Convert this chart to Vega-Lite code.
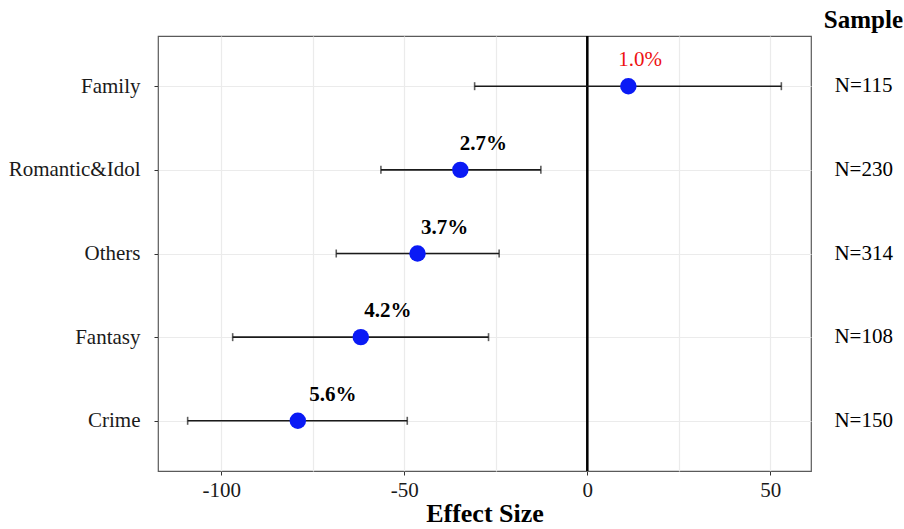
{
  "$schema": "https://vega.github.io/schema/vega-lite/v6.json",
  "width": 653,
  "height": 435,
  "padding": {"left": 8, "top": 8, "right": 0, "bottom": 0},
  "autosize": {"type": "pad"},
  "background": "white",
  "title": {
    "text": "Sample",
    "anchor": "end",
    "frame": "group",
    "dx": 92,
    "offset": 2,
    "font": "Liberation Serif",
    "fontSize": 25,
    "fontWeight": "bold",
    "color": "#000000"
  },
  "data": {
    "values": [
      {"genre": "Family", "est": 11.2, "lo": -30.8, "hi": 53.0, "label": "1.0%", "lx": 14.4, "sig": "no", "n": "N=115"},
      {"genre": "Romantic&Idol", "est": -34.7, "lo": -56.4, "hi": -12.7, "label": "2.7%", "lx": -28.4, "sig": "yes", "n": "N=230"},
      {"genre": "Others", "est": -46.4, "lo": -68.6, "hi": -24.1, "label": "3.7%", "lx": -39.0, "sig": "yes", "n": "N=314"},
      {"genre": "Fantasy", "est": -61.9, "lo": -96.9, "hi": -27.0, "label": "4.2%", "lx": -54.5, "sig": "yes", "n": "N=108"},
      {"genre": "Crime", "est": -79.1, "lo": -109.2, "hi": -49.2, "label": "5.6%", "lx": -69.5, "sig": "yes", "n": "N=150"}
    ]
  },
  "encoding": {
    "y": {
      "field": "genre",
      "type": "nominal",
      "sort": null,
      "scale": {"type": "point", "padding": 0.6},
      "axis": {
        "title": null,
        "labelFont": "Liberation Serif",
        "labelFontSize": 21,
        "labelColor": "#1a1a1a",
        "labelPadding": 14,
        "tickSize": 4,
        "tickColor": "#333333",
        "domain": false,
        "grid": true,
        "gridColor": "#ebebeb",
        "gridWidth": 1.2
      }
    }
  },
  "layer": [
    {
      "mark": {"type": "rule", "color": "#000000", "strokeWidth": 1.6},
      "encoding": {
        "x": {
          "datum": 0,
          "type": "quantitative",
          "scale": {"domain": [-117.3, 61.1], "nice": false, "zero": false},
          "axis": {
            "title": "Effect Size",
            "titleFont": "Liberation Serif",
            "titleFontSize": 26,
            "titleFontWeight": "bold",
            "titleColor": "#000000",
            "titlePadding": 0,
            "values": [-100, -75, -50, -25, 0, 25, 50],
            "labelExpr": "datum.value % 50 === 0 ? toString(datum.value) : ''",
            "labelFont": "Liberation Serif",
            "labelFontSize": 21,
            "labelColor": "#1a1a1a",
            "labelPadding": 4,
            "tickSize": 4,
            "tickColor": {"condition": {"test": "datum.value % 50 === 0", "value": "#333333"}, "value": "transparent"},
            "domain": false,
            "grid": true,
            "gridColor": "#ebebeb",
            "gridWidth": 1.2
          }
        },
        "y": null
      }
    },
    {
      "mark": {"type": "rule", "color": "#1a1a1a", "strokeWidth": 1.6},
      "encoding": {
        "x": {"field": "lo", "type": "quantitative"},
        "x2": {"field": "hi"}
      }
    },
    {
      "mark": {"type": "tick", "color": "#1a1a1a", "thickness": 1.6, "size": 8},
      "encoding": {"x": {"field": "lo", "type": "quantitative"}}
    },
    {
      "mark": {"type": "tick", "color": "#1a1a1a", "thickness": 1.6, "size": 8},
      "encoding": {"x": {"field": "hi", "type": "quantitative"}}
    },
    {
      "mark": {"type": "point", "filled": true, "shape": "circle", "size": 270, "color": "#0a1af5", "opacity": 1},
      "encoding": {"x": {"field": "est", "type": "quantitative"}}
    },
    {
      "transform": [{"filter": "datum.sig === 'no'"}],
      "mark": {"type": "text", "font": "Liberation Serif", "fontSize": 21, "fontWeight": "normal", "baseline": "alphabetic", "align": "center", "dy": -20, "color": "#ee1111"},
      "encoding": {
        "x": {"field": "lx", "type": "quantitative"},
        "text": {"field": "label"}
      }
    },
    {
      "transform": [{"filter": "datum.sig === 'yes'"}],
      "mark": {"type": "text", "font": "Liberation Serif", "fontSize": 21, "fontWeight": "bold", "baseline": "alphabetic", "align": "center", "dy": -20, "color": "#000000"},
      "encoding": {
        "x": {"field": "lx", "type": "quantitative"},
        "text": {"field": "label"}
      }
    },
    {
      "mark": {"type": "text", "font": "Liberation Serif", "fontSize": 21, "align": "center", "baseline": "middle", "color": "#000000"},
      "encoding": {
        "x": {"datum": 75.5, "type": "quantitative"},
        "text": {"field": "n"}
      }
    }
  ],
  "config": {
    "view": {"stroke": "#5a5a5a", "strokeWidth": 1.2},
    "axis": {"ticks": true}
  }
}
